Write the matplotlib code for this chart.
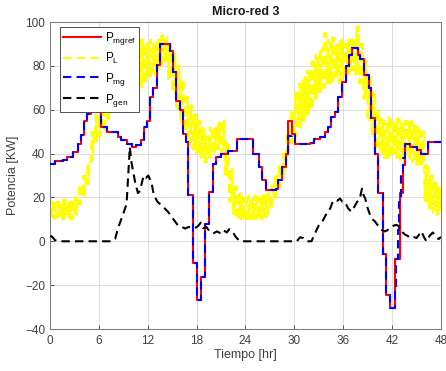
import numpy as np
import matplotlib
matplotlib.use("Agg")
import matplotlib.pyplot as plt

# ---------------- data ----------------
# P_mgref : step signal (time of change [hr], value [kW])
t_ref = [0, 0.6, 1.6, 2.1, 2.8, 3.4, 3.8, 4.2, 4.6, 5.0, 6.2, 7.0, 8.3, 8.7, 9.5, 10.1, 10.6, 11.2, 11.5, 11.9,
         12.3, 12.7, 13.1, 13.5, 14.7, 15.1, 15.5, 16.0, 16.3, 16.7, 17.0, 17.5, 18.0, 18.5, 19.0, 19.5, 20.0, 20.4,
         21.0, 21.9, 22.9, 24.9, 25.6, 26.0, 26.5, 27.7, 28.0, 28.5, 29.0, 29.2, 29.7, 30.1, 31.9, 32.4, 33.2, 33.7,
         34.1, 34.5, 35.0, 35.4, 35.9, 36.3, 36.7, 37.1, 37.8, 38.1, 38.5, 39.1, 39.4, 39.9, 40.3, 40.9, 41.3, 41.8,
         42.4, 43.0, 43.3, 43.6, 44.2, 45.0, 45.6, 46.4, 48.0]
p_ref = [35.4, 36.5, 37, 38.4, 40.7, 44.5, 48.3, 55, 58, 59.5, 52, 50, 47.5, 46, 44.5, 43, 43.7, 46, 52, 55,
         65.6, 70, 80.5, 90, 87, 77, 64, 60, 49, 45.3, 21, -10, -27, -16.5, 8, 22.5, 35.4, 38.4,
         40, 41, 46.8, 40, 34, 28, 23.3, 24, 28, 34, 40, 55, 49, 44.5, 45, 46.5, 47.5, 50,
         52, 56.5, 59, 66, 72.5, 80, 85, 88, 85, 83, 76, 70, 56, 40, 22, -6, -24.5, -30.5,
         -8, 22, 35, 44.5, 43, 41.5, 40, 45.5, 45.5]

# P_mg : measured microgrid power (time of change [hr], value [kW])
t_mg = [0, 0.6, 1.6, 2.1, 2.8, 3.4, 3.8, 4.2, 4.6, 5.0, 6.2, 7.0, 8.3, 8.7, 9.5, 10.1, 10.6, 11.2, 11.5, 11.9,
        12.3, 12.7, 13.1, 13.5, 14.7, 15.1, 15.5, 16.0, 16.3, 16.7, 17.0, 17.5, 18.0, 18.5, 19.0, 19.5, 20.0, 20.4,
        21.0, 21.9, 22.9, 24.9, 25.6, 26.0, 26.5, 27.7, 28.0, 28.5, 29.0, 29.2, 29.7, 30.1, 31.9, 32.4, 33.2, 33.7,
        34.1, 34.5, 35.0, 35.4, 35.9, 36.3, 36.7, 37.1, 37.8, 38.1, 38.5, 39.1, 39.4, 39.9, 40.3, 40.9, 41.3, 41.8,
        42.3, 42.5, 42.7, 42.9, 43.1, 43.3, 43.6, 44.2, 45.0, 45.6, 46.4, 48.0]
p_mg = [35.4, 36.5, 37, 38.4, 40.7, 44.5, 48.3, 55, 58, 59.5, 52, 50, 47.5, 46, 44.5, 43, 43.7, 46, 52, 55,
        65.6, 70, 80.5, 90, 87, 77, 64, 60, 49, 45.3, 21, -10, -27, -16.5, 8, 22.5, 35.4, 38.4,
        40, 41, 46.8, 40, 34, 28, 23.3, 24, 28, 34, 40, 48, 49, 44.5, 45, 46.5, 47.5, 50,
        52, 56.5, 59, 66, 72.5, 80, 85, 88, 85, 83, 76, 70, 56, 40, 22, -6, -24.5, -30.5,
        -22, -8, 5, 18, 30, 38, 44.5, 43, 41.5, 40, 45.5, 45.5]

# P_L : load, read as lower / upper edge of its noisy band every half hour
t_load = list(np.arange(0, 48.01, 0.5))
pl_lo = [11, 10, 11, 10, 11, 10, 12, 17, 20, 26, 37, 45, 48, 50, 55, 60, 65, 70, 72, 74,
         72, 70, 70, 72, 75, 76, 78, 80, 82, 74, 68, 60, 55, 50, 45, 42, 40, 38, 36, 38,
         40, 42, 40, 30, 18, 12, 10, 10, 10, 10, 10, 10, 10, 11, 15, 20, 25, 30, 38, 45,
         48, 52, 55, 58, 60, 65, 68, 70, 72, 72, 75, 72, 75, 76, 78, 76, 72, 65, 55, 48,
         42, 40, 38, 38, 40, 38, 37, 40, 38, 36, 35, 34, 18, 15, 13, 12, 14]
pl_hi = [19, 18, 18, 19, 18, 19, 20, 26, 30, 36, 50, 58, 60, 62, 70, 78, 85, 90, 92, 97,
         95, 97, 92, 90, 92, 90, 92, 94, 93, 90, 86, 80, 74, 66, 62, 58, 55, 52, 48, 52,
         52, 54, 55, 45, 33, 25, 22, 20, 21, 20, 21, 20, 21, 22, 25, 30, 35, 40, 50, 60,
         68, 72, 75, 78, 82, 85, 88, 95, 92, 93, 90, 92, 90, 92, 93, 98, 90, 82, 75, 68,
         60, 56, 55, 57, 55, 56, 54, 55, 55, 53, 52, 50, 35, 30, 27, 25, 24]

# P_gen : generator power (time [hr], value [kW])
t_gen = [0, 0.3, 0.6, 1.0, 7.6, 8.0, 8.4, 9.0, 9.4, 9.6, 9.8, 10.0, 10.2, 10.5, 10.8, 11.05, 11.3, 11.5, 11.8,
         12.07, 12.3, 12.5, 12.7, 12.9, 13.2, 13.5, 13.9, 14.5, 15.1, 15.7, 16.2, 16.6, 17.0, 17.4, 17.8, 18.2,
         18.5, 18.8, 19.2, 19.6, 20.0, 20.5, 21.0, 21.3, 21.7, 22.0, 22.4, 22.8, 23.3, 30.3, 30.7, 31.1, 31.5,
         32.1, 32.7, 33.1, 33.5, 34.0, 34.4, 34.7, 35.0, 35.3, 35.6, 35.9, 36.2, 36.6, 37.0, 37.4, 37.7, 38.0,
         38.3, 38.5, 38.7, 39.0, 39.3, 39.6, 39.9, 40.2, 40.5, 40.8, 41.1, 41.4, 41.7, 42.1, 42.5, 42.8, 43.0,
         43.3, 43.6, 43.9, 44.2, 44.6, 45.0, 45.3, 45.6, 45.9, 46.2, 46.6, 47.0, 47.4, 47.7, 48.0]
p_gen = [2.5, 2, 0.5, 0, 0, 1.2, 6.5, 12.6, 17, 30, 43, 36, 32, 26, 22, 23, 27, 30, 29,
         30, 28, 26, 22, 20, 18, 17, 15.7, 13.4, 10.3, 7.3, 6.5, 5.8, 6.5, 6.5, 6, 7,
         8.5, 6, 6.5, 4.5, 3.5, 4.5, 3.5, 5, 4, 5.5, 4.5, 2, 0, 0, 1.8, 1.5, 0,
         0, 5, 8, 9.5, 13, 15, 18, 19, 18.5, 19.5, 18, 18, 15, 13.5, 16, 18, 19,
         24, 21, 19.5, 15, 12, 10, 9, 7.5, 6, 5, 4.5, 5, 6, 7, 7.5, 7, 6,
         4, 3, 2.5, 1.5, 2, 1.5, 3, 4.5, 2, 0, 2.5, 4, 2, 1, 2]

x_ticks = [0, 6, 12, 18, 24, 30, 36, 42, 48]
y_ticks = [-40, -20, 0, 20, 40, 60, 80, 100]

# ---------------- figure ----------------
plt.rcParams['font.family'] = ['Liberation Sans', 'DejaVu Sans']
plt.rcParams['mathtext.default'] = 'regular'

fig = plt.figure(figsize=(4.46, 3.71), dpi=100)
ax = fig.add_axes([50 / 446, 1 - 329 / 371, 391 / 446, 307 / 371])

# load series: the noisy signal swings between the lower and upper edge of its band
t_pl = []
v_pl = []
for t, lo, hi in zip(t_load, pl_lo, pl_hi):
    t_pl += [t, t + 0.125, t + 0.25, t + 0.375]
    v_pl += [lo, hi, lo, hi]

ax.plot(t_ref, p_ref, drawstyle='steps-post', color='#ff0000', lw=1.5, label='P$_{mgref}$', zorder=3)
ax.plot(t_pl, v_pl, color='#ffff00', lw=1.5, ls=(0, (4, 2.5)), label='P$_{L}$', zorder=2)
ax.plot(t_mg, p_mg, drawstyle='steps-post', color='#0000ff', lw=1.5, ls=(0, (4, 2.5)), label='P$_{mg}$', zorder=4)
ax.plot(t_gen, p_gen, color='black', lw=1.5, ls=(0, (4, 2.5)), label='P$_{gen}$', zorder=5)

ax.set_xlim(0, 48)
ax.set_ylim(-40, 100)
ax.set_xticks(x_ticks)
ax.set_yticks(y_ticks)
ax.grid(True, color='#dcdcdc', lw=0.7)
ax.set_axisbelow(True)
for s in ax.spines.values():
    s.set_color('#808080')
    s.set_linewidth(0.8)
ax.tick_params(direction='in', length=3, colors='#404040', labelsize=8.5, width=0.6)
ax.tick_params(axis='x', pad=4)

ax.set_title('Micro-red 3', fontsize=9, fontweight='bold', color='#1a1a1a', pad=5)
ax.set_xlabel('Tiempo [hr]', fontsize=9, color='#404040', labelpad=2)
ax.set_ylabel('Potencia [KW]', fontsize=9, color='#404040', labelpad=4)

leg = ax.legend(loc='upper left', bbox_to_anchor=(0.025, 0.985), fontsize=8.5, handlelength=3.2,
                handletextpad=0.3, borderpad=0.3, labelspacing=0.35, fancybox=False, framealpha=1,
                edgecolor='#333333', borderaxespad=0)
leg.get_frame().set_linewidth(0.6)

fig.savefig('out.png', dpi=100)
